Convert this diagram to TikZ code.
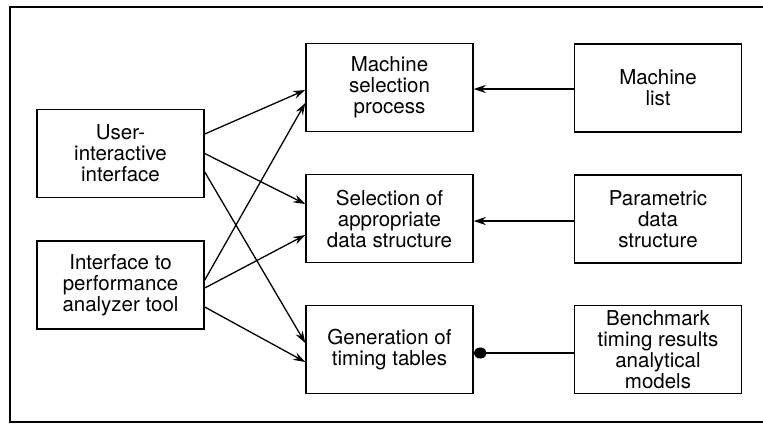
\documentclass[tikz,border=0pt]{standalone}
\usepackage{fontspec}
\setmainfont{TeX Gyre Heros}
\usetikzlibrary{arrows.meta}
\begin{document}
\begin{tikzpicture}[x=1pt,y=-1pt,
  box/.style={draw, line width=1.5pt, minimum width=167pt, minimum height=88pt,
    align=center, inner sep=0pt, font=\fontsize{20.5}{21}\selectfont},
  link/.style={line width=1.3pt, -{Stealth[length=12pt,width=8pt,inset=4pt]}},
  dotlink/.style={line width=1.3pt, -{Circle[length=13pt,width=11pt]}}]
\useasboundingbox (0,0) rectangle (763,424);
% outer frame
\draw[line width=1.6pt] (763,7) -- (10,7) -- (10,422) -- (763,422);
% left column
\node[box] (user)  at (120.5,153.5) {User-\\interactive\\interface};
\node[box] (iface) at (120.5,285)   {Interface to\\performance\\analyzer tool};
% middle column
\node[box] (msp) at (389.5,87.5)  {Machine\\selection\\process};
\node[box] (sel) at (389.5,218.5) {Selection of\\appropriate\\data structure};
\node[box] (gen) at (389.5,349.5) {Generation of\\timing tables};
% right column
\node[box] (mlist) at (658,88)    {Machine\\list};
\node[box] (param) at (658,219)   {Parametric\\data\\structure};
\node[box] (bench) at (658,349.5) {Benchmark\\timing results\\analytical\\models};
% inputs from the interfaces
\draw[link] ([yshift=19.5pt]user.east) -- ([yshift=-2.5pt]msp.west);
\draw[link] (user.east) -- ([yshift=14.5pt]sel.west);
\draw[link] ([yshift=-18.5pt]user.east) -- ([yshift=6.5pt]gen.west);
\draw[link] ([yshift=5pt]iface.east) -- ([yshift=-15.5pt]msp.west);
\draw[link] ([yshift=-3pt]iface.east) -- ([yshift=-16.5pt]sel.west);
\draw[link] ([yshift=-22pt]iface.east) -- ([yshift=-12.5pt]gen.west);
% inputs from the data sources
\draw[link] ([yshift=-1pt]mlist.west) -- ([yshift=-1pt]mlist.west -| msp.east);
\draw[link] ([yshift=-2pt]param.west) -- ([yshift=-2pt]param.west -| sel.east);
\draw[dotlink] ([yshift=-3.5pt]bench.west) -- ([yshift=-3.5pt]bench.west -| gen.east);
\end{tikzpicture}
\end{document}
